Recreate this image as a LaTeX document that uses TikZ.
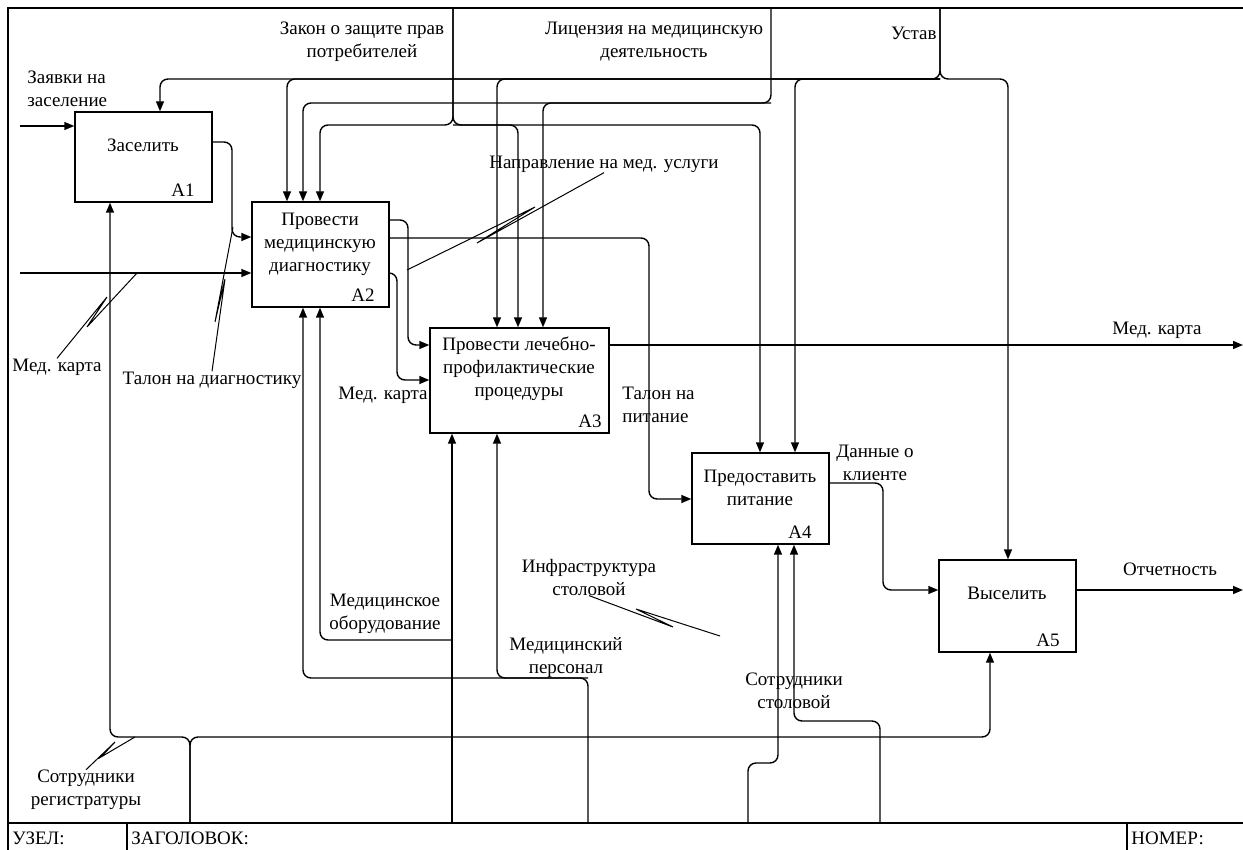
\documentclass[tikz,border=0pt]{standalone}
\usepackage{fontspec}
\setmainfont{Liberation Serif}
\usetikzlibrary{arrows.meta}

\def\lw{0.7pt}

\begin{document}
\begin{tikzpicture}[x=0.5pt, y=-0.5pt, font=\fontsize{9.5}{11.5}\selectfont,
    box/.style={draw, line width=\lw, inner sep=0pt},
    flow/.style={line width=\lw, rounded corners=4pt, -{Triangle[length=5pt,width=4pt]}},
    lead/.style={line width=0.5pt},
    lbl/.style={align=center, inner sep=0pt}]
      \useasboundingbox (0,0) rectangle (1243,850);

      \draw[line width=\lw] (1243,8) -- (8,8) -- (8,850);
      \draw[line width=\lw] (8,823) -- (1243,823);
      \draw[line width=\lw] (127,823) -- (127,850) (1127,823) -- (1127,850);
      \node[lbl, anchor=west] (uzel) at (12,838) {УЗЕЛ:};
      \node[lbl, anchor=west] (zagl) at (131,838) {ЗАГОЛОВОК:};
      \node[lbl, anchor=west] (nomer) at (1131,838) {НОМЕР:};

      \node[box, minimum width=68.5pt, minimum height=45pt] (a1) at (143.5,157) {};
      \node[box, minimum width=68.5pt, minimum height=52.5pt] (a2) at (320.5,254.5) {};
      \node[box, minimum width=89.5pt, minimum height=52.5pt] (a3) at (519.5,380.5) {};
      \node[box, minimum width=68.5pt, minimum height=45.5pt] (a4) at (760.5,498.5) {};
      \node[box, minimum width=68.5pt, minimum height=46pt] (a5) at (1007.5,606) {};

      \node[lbl] (a1t) at (143,145) {Заселить};
      \node[lbl] (a1n) at (183,190) {A1};
      \node[lbl] (a2t) at (320,244) {Провести\\медицинскую\\диагностику};
      \node[lbl] (a2n) at (363,295) {A2};
      \node[lbl] (a3t) at (519,369) {Провести лечебно-\\профилактические\\процедуры};
      \node[lbl] (a3n) at (590,421) {A3};
      \node[lbl] (a4t) at (760,488) {Предоставить\\питание};
      \node[lbl] (a4n) at (800,532) {A4};
      \node[lbl] (a5t) at (1007,593) {Выселить};
      \node[lbl] (a5n) at (1048,640) {A5};

      \foreach \n/\x/\y in {in1/20/126, in2/20/273,
          t1/232/142, t1b/232/237, n1/408/220, n1b/408/345,
          m1/397/273, m1b/397/380, p1/649/238, p1b/649/499,
          o1/1243/345, d1/883/483, d1b/883/590, o2/1243/590,
          zk/453/8, zkb/453/125, zk2/320/125, zk3/518/125, zk4/760/125,
          lc/771/8, lcb/771/103, lc2/303/103, lc3/543/103,
          us/940/8, usb/940/79, us1/160/79, us2/287/79, us3/497/79, us4/795/79, us5/1008/79,
          sr/190/823, srb/190/737, sr1/110/737, sr5/990/737,
          mo/452/823, mob/452/640, mo2/320/640,
          mp/588/823, mpb/588/678, mp2/303/678, mp3/497/678,
          inf/748/823, infb/748/763, inf4/778/763,
          ss/880/823, ssb/880/721, ss4/794/721,
          pmk/137/273, ptd/233/227, pnap/407/270, pinf/720/636, psr/135/737}
        \coordinate (\n) at (\x,\y);

      \draw[flow] (in1) -- (in1 -| a1.west);
      \draw[flow] (in2) -- (in2 -| a2.west);
      \draw[flow] (t1 -| a1.east) -- (t1) -- (t1b) -- (t1b -| a2.west);
      \draw[flow] (n1 -| a2.east) -- (n1) -- (n1b) -- (n1b -| a3.west);
      \draw[flow] (m1 -| a2.east) -- (m1) -- (m1b) -- (m1b -| a3.west);
      \draw[flow] (p1 -| a2.east) -- (p1) -- (p1b) -- (p1b -| a4.west);
      \draw[flow] (o1 -| a3.east) -- (o1);
      \draw[flow] (d1 -| a4.east) -- (d1) -- (d1b) -- (d1b -| a5.west);
      \draw[flow] (o2 -| a5.east) -- (o2);

      \draw[flow] (zk) -- (zkb) -- (zk2) -- (zk2 |- a2.north);
      \draw[flow] (zk) -- (zkb) -- (zk4) -- (zk4 |- a4.north);
      \draw[flow] (zkb) -- (zk3) -- (zk3 |- a3.north);
      \draw[flow] (lc) -- (lcb) -- (lc2) -- (lc2 |- a2.north);
      \draw[flow] (lcb) -- (lc3) -- (lc3 |- a3.north);
      \draw[flow] (us) -- (usb) -- (us1) -- (us1 |- a1.north);
      \draw[flow] (usb) -- (us2) -- (us2 |- a2.north);
      \draw[flow] (usb) -- (us3) -- (us3 |- a3.north);
      \draw[flow] (usb) -- (us4) -- (us4 |- a4.north);
      \draw[flow] (us) -- (usb) -- (us5) -- (us5 |- a5.north);

      \draw[flow] (sr) -- (srb) -- (sr1) -- (sr1 |- a1.south);
      \draw[flow] (sr) -- (srb) -- (sr5) -- (sr5 |- a5.south);
      \draw[flow] (mo) -- (mo |- a3.south);
      \draw[flow] (mob) -- (mo2) -- (mo2 |- a2.south);
      \draw[flow] (mp) -- (mpb) -- (mp2) -- (mp2 |- a2.south);
      \draw[flow] (mpb) -- (mp3) -- (mp3 |- a3.south);
      \draw[flow] (inf) -- (infb) -- (inf4) -- (inf4 |- a4.south);
      \draw[flow] (ss) -- (ssb) -- (ss4) -- (ss4 |- a4.south);

      \node[lbl, anchor=west, align=left] (lzay) at (27,89) {Заявки на\\заселение};
      \node[lbl] (lmk1) at (57,367) {Мед. карта};
      \node[lbl] (ltd) at (212,380) {Талон на диагностику};
      \node[lbl] (lnap) at (604,164) {Направление на мед. услуги};
      \node[lbl] (lmk2) at (383,395) {Мед. карта};
      \node[lbl, anchor=west, align=left] (ltp) at (622,405) {Талон на\\питание};
      \node[lbl] (lmk3) at (1157,330) {Мед. карта};
      \node[lbl] (ldk) at (875,463) {Данные о\\клиенте};
      \node[lbl] (lotch) at (1170,569) {Отчетность};
      \node[lbl] (lzak) at (362,42) {Закон о защите прав\\потребителей};
      \node[lbl] (llic) at (654,42) {Лицензия на медицинскую\\деятельность};
      \node[lbl, anchor=east] (lust) at (937,33) {Устав};
      \node[lbl] (lsr) at (86,790) {Сотрудники\\регистратуры};
      \node[lbl] (lmo) at (385,614) {Медицинское\\оборудование};
      \node[lbl] (lmp) at (566,658) {Медицинский\\персонал};
      \node[lbl] (linf) at (589,577) {Инфраструктура\\столовой};
      \node[lbl] (lss) at (794,691) {Сотрудники\\столовой};

      \draw[lead] (lmk1.north) -- (107,297) -- (87,327) -- (pmk);
      \draw[lead] (ltd.north) -- (225,279) -- (215,322) -- (ptd);
      \draw[lead] (lnap.south) -- (477,243) -- (535,207) -- (pnap);
      \draw[lead] (linf.south) -- (673,627) -- (636,609) -- (pinf);
      \draw[lead] (lsr.north) -- (115,742) -- (101,757) -- (psr);
    \end{tikzpicture}
\end{document}
